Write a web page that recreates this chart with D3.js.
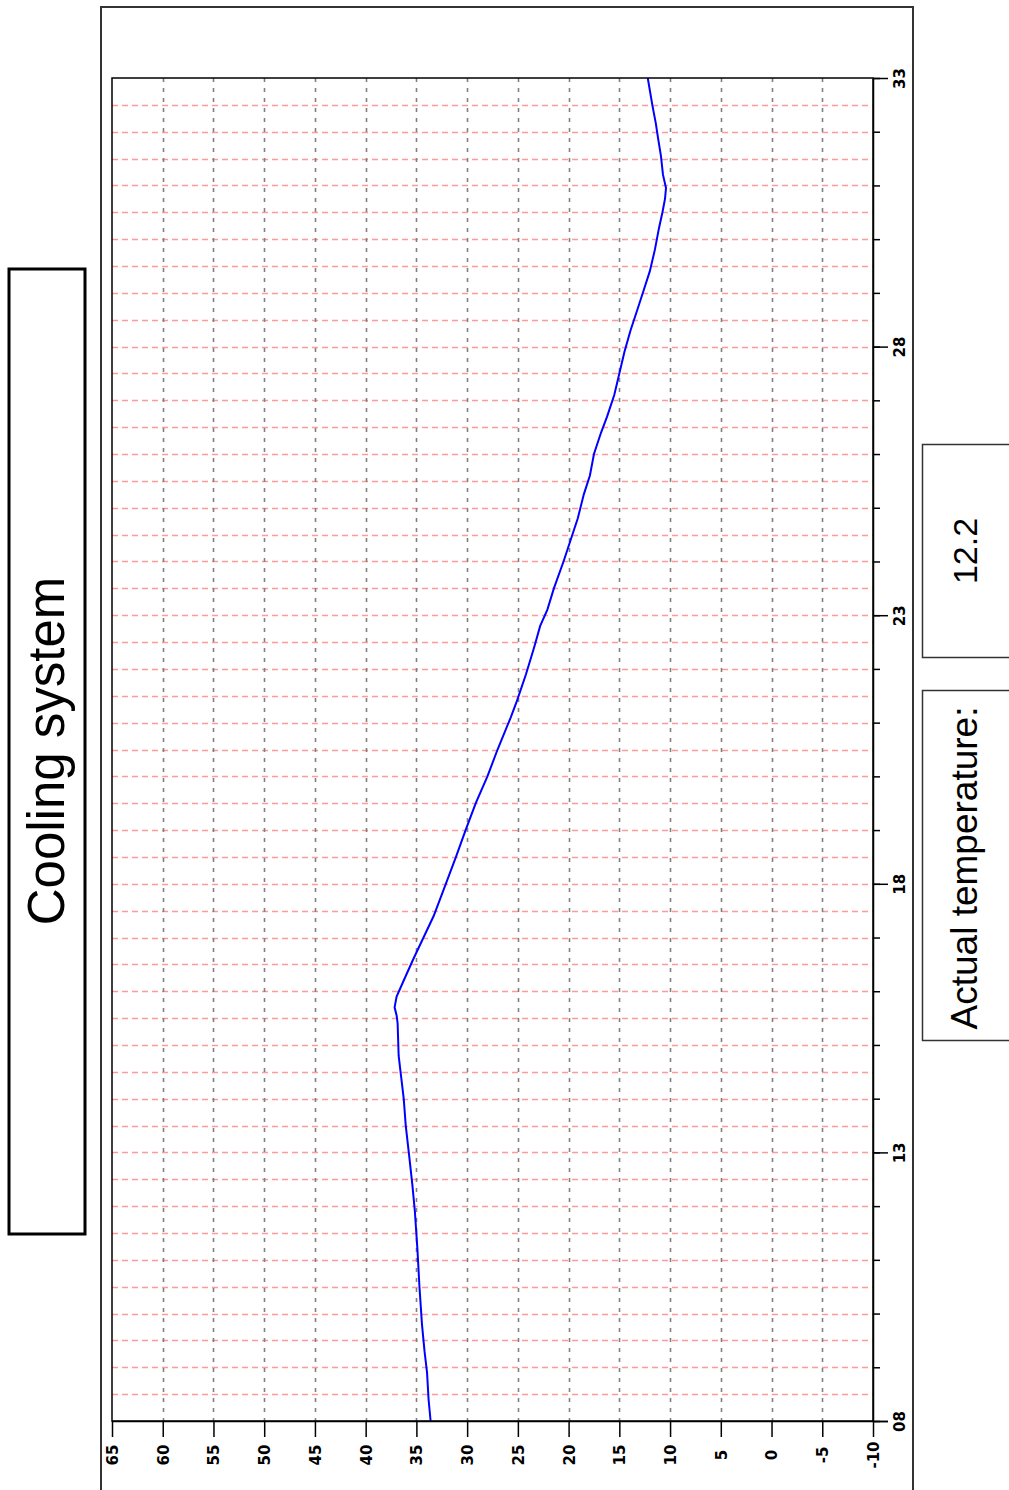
<!DOCTYPE html>
<html>
<head>
<meta charset="utf-8">
<script src="https://cdn.jsdelivr.net/npm/d3@7"></script>
<style>
  html, body { margin: 0; padding: 0; background: #fff; }
  svg { display: block; font-family: "Liberation Sans", Arial, sans-serif; }
</style>
</head>
<body>
<svg id="chart" width="1009" height="1490"></svg>
<script>
// Logged coolant temperature (°C) against time of day (h)
const timeValues = [
  8.0, 8.4, 8.9, 9.3, 9.8, 10.5, 11.2, 11.9, 12.4, 13.0, 13.5, 14.0, 14.4, 14.8,
  15.4, 15.55, 15.7, 15.9, 16.2, 16.6, 17.0, 17.4, 18.0, 18.5, 19.0, 19.5, 20.0,
  20.5, 21.1, 21.4, 21.9, 22.4, 22.8, 23.1, 23.5, 24.0, 24.4, 24.8, 25.25, 25.6,
  26.0, 26.4, 26.7, 27.1, 27.5, 27.9, 28.3, 28.7, 29.05, 29.4, 29.8, 30.2, 30.5,
  30.75, 30.95, 31.2, 31.55, 31.9, 32.15, 32.5, 33.0
];
const tempValues = [
  33.6, 33.8, 33.95, 34.2, 34.45, 34.7, 34.9, 35.15, 35.4, 35.75, 36.05, 36.25, 36.5, 36.75,
  36.85, 36.95, 37.15, 36.95, 36.25, 35.3, 34.3, 33.3, 32.1, 31.1, 30.15, 29.15, 28.0,
  27.0, 25.7, 25.1, 24.2, 23.4, 22.8, 22.1, 21.45, 20.5, 19.8, 19.1, 18.5, 17.9,
  17.5, 16.8, 16.2, 15.5, 15.0, 14.5, 13.9, 13.2, 12.6, 12.0, 11.5, 11.1, 10.75,
  10.5, 10.4, 10.7, 10.9, 11.2, 11.4, 11.75, 12.2
];

// Axis ticks
const tempTicks = [65, 60, 55, 50, 45, 40, 35, 30, 25, 20, 15, 10, 5, 0, -5, -10];
const timeTicks = [8, 13, 18, 23, 28, 33];
const timeMinorTicks = d3.range(8, 34, 1);
const timeGridLines = d3.range(8.5, 33, 0.5);
const tempGridLines = [60, 55, 50, 45, 40, 35, 30, 25, 20, 15, 10, 5, 0, -5];

const titleText = "Cooling system";
const readoutLabel = "Actual temperature:";
const currentTemp = tempValues[tempValues.length - 1];

const tickFont = "\"DejaVu Sans\", Verdana, sans-serif";

const svg = d3.select("#chart");

// Plot rectangle (chart is laid out sideways: temperature runs horizontally, time vertically)
const plot = { left: 112, right: 873, top: 78, bottom: 1421 };

const x = d3.scaleLinear().domain([65, -10]).range([plot.left, plot.right]);
const y = d3.scaleLinear().domain([8, 33]).range([plot.bottom, plot.top]);

// Outer frame
svg.append("path")
  .attr("d", "M101,1500 V7 H913 V1500")
  .attr("fill", "none")
  .attr("stroke", "#333")
  .attr("stroke-width", 2);

// Title box
svg.append("rect")
  .attr("x", 9).attr("y", 269).attr("width", 76).attr("height", 965)
  .attr("fill", "#fff").attr("stroke", "#000").attr("stroke-width", 3);
svg.append("text")
  .attr("transform", "translate(64,751) rotate(-90)")
  .attr("text-anchor", "middle")
  .attr("font-size", 51)
  .attr("fill", "#000")
  .text(titleText);

// Readout boxes
svg.append("rect")
  .attr("x", 922.5).attr("y", 444.5).attr("width", 110).attr("height", 213)
  .attr("fill", "#fff").attr("stroke", "#333").attr("stroke-width", 1.5);
svg.append("text")
  .attr("transform", "translate(977,551) rotate(-90)")
  .attr("text-anchor", "middle")
  .attr("font-size", 34)
  .attr("fill", "#000")
  .text(d3.format(".1f")(currentTemp));

svg.append("rect")
  .attr("x", 922.5).attr("y", 690.5).attr("width", 110).attr("height", 350)
  .attr("fill", "#fff").attr("stroke", "#333").attr("stroke-width", 1.5);
svg.append("text")
  .attr("transform", "translate(977,868) rotate(-90)")
  .attr("text-anchor", "middle")
  .attr("font-size", 37)
  .attr("fill", "#000")
  .text(readoutLabel);

// Grid: half-hour lines (red dashed)
svg.append("g")
  .selectAll("line")
  .data(timeGridLines)
  .join("line")
  .attr("x1", plot.left).attr("x2", plot.right)
  .attr("y1", d => Math.round(y(d)) + 0.5).attr("y2", d => Math.round(y(d)) + 0.5)
  .attr("stroke", "#ff9a9a")
  .attr("stroke-width", 1.5)
  .attr("stroke-dasharray", "6,4");

// Grid: temperature lines (gray dashed)
svg.append("g")
  .selectAll("line")
  .data(tempGridLines)
  .join("line")
  .attr("x1", d => Math.round(x(d)) + 0.5).attr("x2", d => Math.round(x(d)) + 0.5)
  .attr("y1", plot.top).attr("y2", plot.bottom)
  .attr("stroke", "#808080")
  .attr("stroke-width", 1.6)
  .attr("stroke-dasharray", "4,6");

// Temperature curve
const line = d3.line()
  .x((d, i) => x(tempValues[i]))
  .y(d => y(d));
svg.append("path")
  .datum(timeValues)
  .attr("d", line)
  .attr("fill", "none")
  .attr("stroke", "#0000ff")
  .attr("stroke-width", 2);

// Plot border
svg.append("rect")
  .attr("x", plot.left).attr("y", plot.top)
  .attr("width", plot.right - plot.left).attr("height", plot.bottom - plot.top)
  .attr("fill", "none").attr("stroke", "#000").attr("stroke-width", 1.5);

// Bottom axis: temperature
const xAxis = svg.append("g")
  .attr("transform", `translate(0,${plot.bottom})`)
  .call(d3.axisBottom(x).tickValues(tempTicks).tickSize(16).tickSizeOuter(0)
    .tickFormat(d => String(d)));
xAxis.select(".domain").attr("d", `M${plot.left},0.5H${plot.right + 15}`).attr("stroke-width", 1.5);
xAxis.selectAll(".tick line").attr("stroke-width", 1.5);
xAxis.selectAll(".tick text")
  .attr("x", 0).attr("y", 0).attr("dy", "0.36em")
  .attr("text-anchor", "middle")
  .attr("transform", "translate(0,34) rotate(-90)")
  .attr("font-size", 15)
  .attr("font-weight", "bold")
  .attr("font-family", tickFont)
  .attr("fill", "#000");

// Right axis: time (minor hourly ticks, then labelled major ticks)
const yMinor = svg.append("g")
  .attr("transform", `translate(${plot.right},0)`)
  .call(d3.axisRight(y).tickValues(timeMinorTicks).tickSize(7).tickSizeOuter(0).tickFormat(""));
yMinor.select(".domain").remove();
yMinor.selectAll(".tick line").attr("stroke-width", 1.5);

const yAxis = svg.append("g")
  .attr("transform", `translate(${plot.right},0)`)
  .call(d3.axisRight(y).tickValues(timeTicks).tickSize(15).tickSizeOuter(0).tickFormat(d3.format("02d")));
yAxis.select(".domain").attr("stroke-width", 1.5);
yAxis.selectAll(".tick line").attr("stroke-width", 1.5);
yAxis.selectAll(".tick text")
  .attr("x", 0).attr("y", 0).attr("dy", "0.36em")
  .attr("text-anchor", "middle")
  .attr("transform", "translate(27,0) rotate(-90)")
  .attr("font-size", 15)
  .attr("font-weight", "bold")
  .attr("font-family", tickFont)
  .attr("fill", "#000");
</script>
</body>
</html>
